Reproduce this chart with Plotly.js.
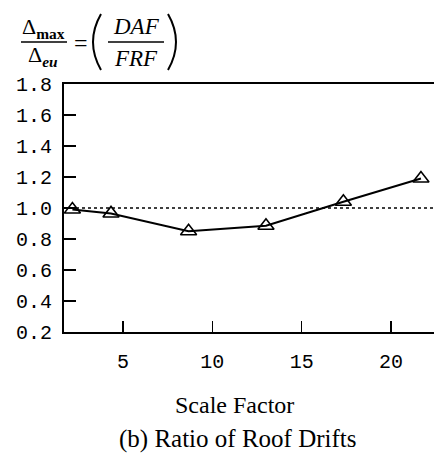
<!DOCTYPE html>
<html><head><meta charset="utf-8">
<script src="https://cdn.plot.ly/plotly-3.0.1.min.js"></script>
<style>html,body{margin:0;padding:0;background:#fff;}#chart{width:434px;height:464px;}</style>
</head><body><div id="chart"></div>
<script>
var scaleFactor = [2.17, 4.33, 8.67, 13.0, 17.33, 21.67];
var driftRatio = [0.99, 0.965, 0.85, 0.885, 1.04, 1.19];
var referenceLevel = 1.0;
var xTicks = [5, 10, 15, 20];
var yTicks = [0.2, 0.4, 0.6, 0.8, 1.0, 1.2, 1.4, 1.6, 1.8];

var L = 64, R = 434, T = 84, B = 332;
function px(x){ return (x - L) / (R - L); }
function py(y){ return (B - y) / (B - T); }

var serif = "Liberation Serif";
var mono = "Liberation Mono";

function paren(xEdge, xMid, yTop, yBot){
  var yM = (yTop + yBot) / 2;
  return 'M ' + px(xEdge) + ' ' + py(yTop) + ' Q ' + px(xMid) + ' ' + py(yM) + ' ' + px(xEdge) + ' ' + py(yBot);
}

var traces = [{
  x: scaleFactor, y: driftRatio, mode: 'lines+markers', type: 'scatter',
  line: {color: '#000', width: 2},
  marker: {symbol: 'triangle-up-open', size: 14, color: '#000', line: {width: 1.6, color: '#000'}},
  showlegend: false, hoverinfo: 'skip'
}];

var layout = {
  width: 434, height: 464,
  margin: {l: L, r: 434 - R, t: T, b: 464 - B},
  paper_bgcolor: '#fff', plot_bgcolor: '#fff',
  showlegend: false,
  xaxis: {
    range: [1.7, 22.4], tickvals: xTicks, ticktext: xTicks.map(String),
    ticks: 'inside', ticklen: 11, tickwidth: 1.5, tickcolor: '#000',
    showline: true, linecolor: '#000', linewidth: 2, mirror: true,
    showgrid: false, zeroline: false,
    tickfont: {family: mono, size: 20, color: '#000'},
    ticklabelstandoff: 10
  },
  yaxis: {
    range: [0.2, 1.8], tickvals: yTicks, ticktext: yTicks.map(function(v){return v.toFixed(1);}),
    ticks: 'inside', ticklen: 12, tickwidth: 1.5, tickcolor: '#000',
    showline: true, linecolor: '#000', linewidth: 2,
    showgrid: false, zeroline: false,
    tickfont: {family: mono, size: 20, color: '#000'},
    ticklabelstandoff: 6
  },
  shapes: [
    {type: 'line', xref: 'paper', yref: 'y', x0: 0, x1: 1, y0: referenceLevel, y1: referenceLevel,
     line: {color: '#000', width: 1.5, dash: 'dot'}},
    {type: 'line', xref: 'paper', yref: 'paper', x0: px(21), x1: px(67), y0: py(42), y1: py(42),
     line: {color: '#000', width: 1.5}},
    {type: 'line', xref: 'paper', yref: 'paper', x0: px(108), x1: px(164), y0: py(42), y1: py(42),
     line: {color: '#000', width: 1.5}},
    {type: 'path', xref: 'paper', yref: 'paper', path: paren(101, 85, 14, 70), line: {color: '#000', width: 2}},
    {type: 'path', xref: 'paper', yref: 'paper', path: paren(168, 184, 14, 70), line: {color: '#000', width: 2}}
  ],
  annotations: [
    {xref: 'paper', yref: 'paper', x: px(43), y: py(28), text: 'Δ<sub><b>max</b></sub>', showarrow: false,
     font: {family: serif, size: 22, color: '#000'}, xanchor: 'center', yanchor: 'middle'},
    {xref: 'paper', yref: 'paper', x: px(43), y: py(56), text: 'Δ<sub><i><b>eu</b></i></sub>', showarrow: false,
     font: {family: serif, size: 22, color: '#000'}, xanchor: 'center', yanchor: 'middle'},
    {xref: 'paper', yref: 'paper', x: px(81), y: py(43), text: '=', showarrow: false,
     font: {family: serif, size: 24, color: '#000'}, xanchor: 'center', yanchor: 'middle'},
    {xref: 'paper', yref: 'paper', x: px(136), y: py(26), text: '<i>DAF</i>', showarrow: false,
     font: {family: serif, size: 23, color: '#000'}, xanchor: 'center', yanchor: 'middle'},
    {xref: 'paper', yref: 'paper', x: px(136), y: py(58), text: '<i>FRF</i>', showarrow: false,
     font: {family: serif, size: 23, color: '#000'}, xanchor: 'center', yanchor: 'middle'},
    {xref: 'paper', yref: 'paper', x: px(234), y: py(405), text: 'Scale Factor', showarrow: false,
     font: {family: serif, size: 24, color: '#000'}, xanchor: 'center', yanchor: 'middle'},
    {xref: 'paper', yref: 'paper', x: px(237), y: py(439), text: '(b) Ratio of Roof Drifts', showarrow: false,
     font: {family: serif, size: 25, color: '#000'}, xanchor: 'center', yanchor: 'middle'}
  ]
};

Plotly.newPlot('chart', traces, layout, {staticPlot: true, displayModeBar: false});
</script>
</body></html>
